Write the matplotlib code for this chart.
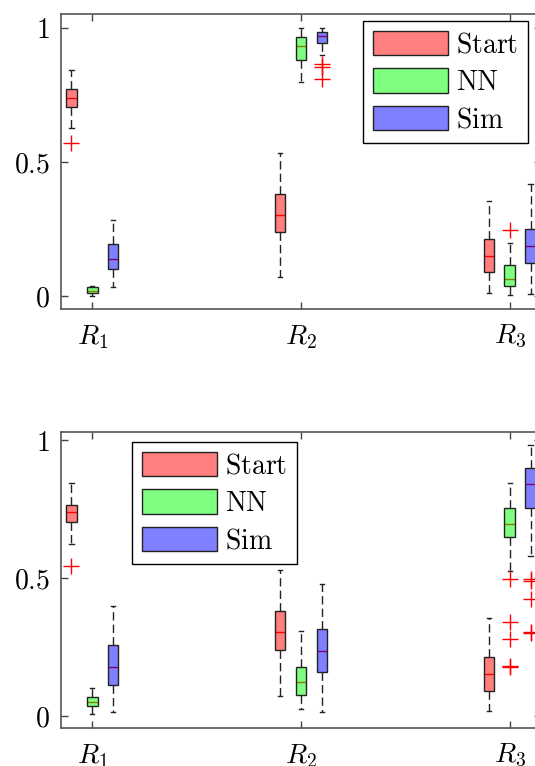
import matplotlib
matplotlib.use('Agg')
import matplotlib.pyplot as plt
from matplotlib.patches import Patch

plt.rcParams['mathtext.fontset'] = 'cm'
plt.rcParams['font.family'] = 'serif'

regions = ['$R_1$', '$R_2$', '$R_3$']
methods = ['Start', 'NN', 'Sim']
colors = [(1, 0, 0), (0, 1, 0), (0, 0, 1)]

# each row: whisker low, q1, median, q3, whisker high (one row per region)
top_start = [[0.626, 0.704, 0.740, 0.772, 0.843],
             [0.070, 0.238, 0.303, 0.381, 0.532],
             [0.012, 0.091, 0.149, 0.212, 0.356]]
top_start_out = [[0.570], [], []]
top_nn = [[0.001, 0.010, 0.020, 0.035, 0.038],
          [0.797, 0.881, 0.934, 0.965, 0.999],
          [0.004, 0.037, 0.062, 0.116, 0.197]]
top_nn_out = [[], [], [0.246]]
top_sim = [[0.032, 0.102, 0.139, 0.193, 0.284],
           [0.899, 0.943, 0.971, 0.986, 1.000],
           [0.007, 0.124, 0.188, 0.251, 0.418]]
top_sim_out = [[], [0.866, 0.855, 0.809], []]

bot_start = [[0.623, 0.704, 0.739, 0.764, 0.845],
             [0.072, 0.239, 0.306, 0.382, 0.529],
             [0.018, 0.092, 0.151, 0.213, 0.356]]
bot_start_out = [[0.543], [], []]
bot_nn = [[0.007, 0.036, 0.052, 0.070, 0.100],
          [0.024, 0.075, 0.124, 0.179, 0.309],
          [0.527, 0.650, 0.694, 0.752, 0.843]]
bot_nn_out = [[], [], [0.495, 0.342, 0.278, 0.180, 0.176]]
bot_sim = [[0.016, 0.112, 0.179, 0.257, 0.399],
           [0.014, 0.161, 0.236, 0.314, 0.477],
           [0.580, 0.752, 0.841, 0.897, 0.982]]
bot_sim_out = [[], [], [0.495, 0.490, 0.423, 0.306, 0.300]]


def box_stats(rows, outs):
    return [dict(whislo=r[0], q1=r[1], med=r[2], q3=r[3], whishi=r[4], fliers=o)
            for r, o in zip(rows, outs)]


def draw(ax, groups, ylim, leg_xy):
    for k, (rows, outs) in enumerate(groups):
        pos = [i + 1 + (k - 1) * 0.1 for i in range(len(regions))]
        ax.bxp(box_stats(rows, outs), positions=pos, widths=0.05, capwidths=0.02,
               patch_artist=True, manage_ticks=False,
               boxprops=dict(facecolor=colors[k] + (0.5,), edgecolor='#222222',
                             linewidth=1, zorder=3),
               medianprops=dict(color='red', linewidth=1, zorder=2),
               whiskerprops=dict(color='#222222', linestyle=(0, (6, 3)), linewidth=1),
               capprops=dict(color='#222222', linewidth=1),
               flierprops=dict(marker='+', markeredgecolor='red', markersize=12,
                               markeredgewidth=1, linestyle='none'))
    ax.set_xlim(0.85, 3.15)
    ax.set_ylim(*ylim)
    ax.set_xticks([1, 2, 3])
    ax.set_xticklabels(regions)
    ax.set_yticks([0, 0.5, 1])
    ax.set_yticklabels(['$0$', '$0.5$', '$1$'])
    ax.tick_params(direction='in', length=5, width=1, color='#444444',
                   labelcolor='black', labelsize=20, top=True, right=True)
    ax.tick_params(axis='y', pad=8)
    ax.tick_params(axis='x', pad=10)
    for s in ax.spines.values():
        s.set_color('#555555')
        s.set_linewidth(1.2)
    handles = [Patch(facecolor=colors[k] + (0.5,), edgecolor='#222222',
                     label='$\\mathrm{%s}$' % m) for k, m in enumerate(methods)]
    leg = ax.legend(handles=handles, loc='upper left', bbox_to_anchor=leg_xy,
                    borderaxespad=0, fontsize=20, handlelength=2.7, handleheight=0.97,
                    handletextpad=0.3, labelspacing=0.35, borderpad=0.35,
                    fancybox=False, edgecolor='black', framealpha=1)
    leg.get_frame().set_linewidth(1)


fig = plt.figure(figsize=(5.35, 7.66), dpi=100)
ax_top = fig.add_axes([61 / 535, 1 - 309 / 766, 480 / 535, 295 / 766])
ax_bot = fig.add_axes([61 / 535, 38 / 766, 480 / 535, 296 / 766])

draw(ax_top, [(top_start, top_start_out), (top_nn, top_nn_out), (top_sim, top_sim_out)],
     (-0.0485, 1.052), (0.629, 0.976))
draw(ax_bot, [(bot_start, bot_start_out), (bot_nn, bot_nn_out), (bot_sim, bot_sim_out)],
     (-0.0435, 1.029), (0.148, 0.966))

fig.savefig('out.png', dpi=100)
